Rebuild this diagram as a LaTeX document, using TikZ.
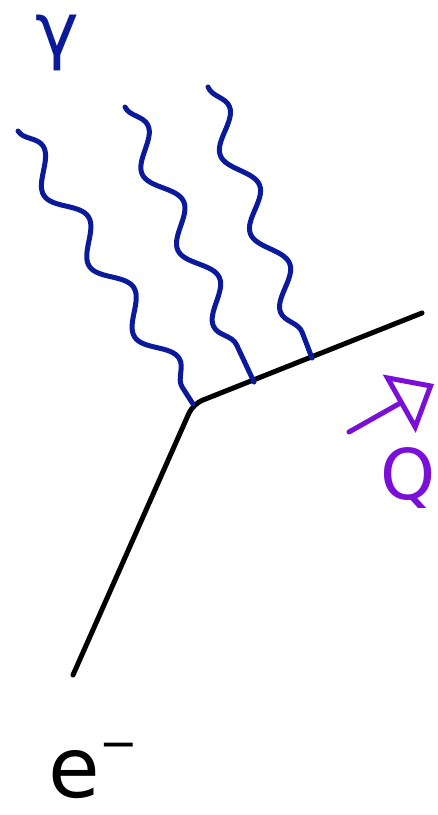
\documentclass[tikz,border=0pt]{standalone}
\usepackage{fontspec}
\setmainfont{DejaVu Sans}
\usetikzlibrary{arrows.meta,decorations.pathmorphing}
\definecolor{photonblue}{HTML}{0A1A9A}
\definecolor{mompurple}{HTML}{7A10D8}
\tikzset{
    fermionline/.style={line width=5pt,black,line cap=round,rounded corners=10pt},
    photonline/.style={line width=5pt,photonblue,line cap=round,decorate,
        decoration={snake,segment length=84pt,amplitude=13pt}},
    momline/.style={line width=5pt,mompurple,line cap=round,line join=round,
        -{Triangle[open,length=40pt,width=66pt,line width=5pt]}},
    bigtext/.style={inner sep=0pt,font=\fontsize{#1}{#1}\selectfont}
}

\begin{document}
\begin{tikzpicture}[x=1pt,y=-1pt]
            \useasboundingbox (0,0) rectangle (438,815);
            % electron line
            \coordinate (ein) at (73,675);
            \coordinate (vtx) at (193,404);
            \coordinate (eout) at (422,313);
            \draw[fermionline] (ein) -- (vtx) -- (eout);
            % photons
            \coordinate (g1) at (18,131);
            \coordinate (g2) at (125,107);
            \coordinate (g3) at (208,87);
            \coordinate (h2) at (254,382);
            \coordinate (h3) at (312,358);
            \draw[photonline] (g1) -- (vtx);
            \draw[photonline] (g2) -- (h2);
            \draw[photonline] (g3) -- (h3);
            % momentum transfer
            \coordinate (qtail) at (349,432);
            \coordinate (qtip) at (434,384);
            \draw[momline] (qtail) -- (qtip);
            % labels
            \node[bigtext=74,photonblue] (gamma) at (57,43) {γ};
            \node[bigtext=70,mompurple] (qlabel) at (408,478) {Q};
            \node[bigtext=84,anchor=base west] (elabel) at (48,797) {e\raisebox{0.45em}{\fontsize{46}{46}\selectfont −}};
        \end{tikzpicture}
\end{document}
